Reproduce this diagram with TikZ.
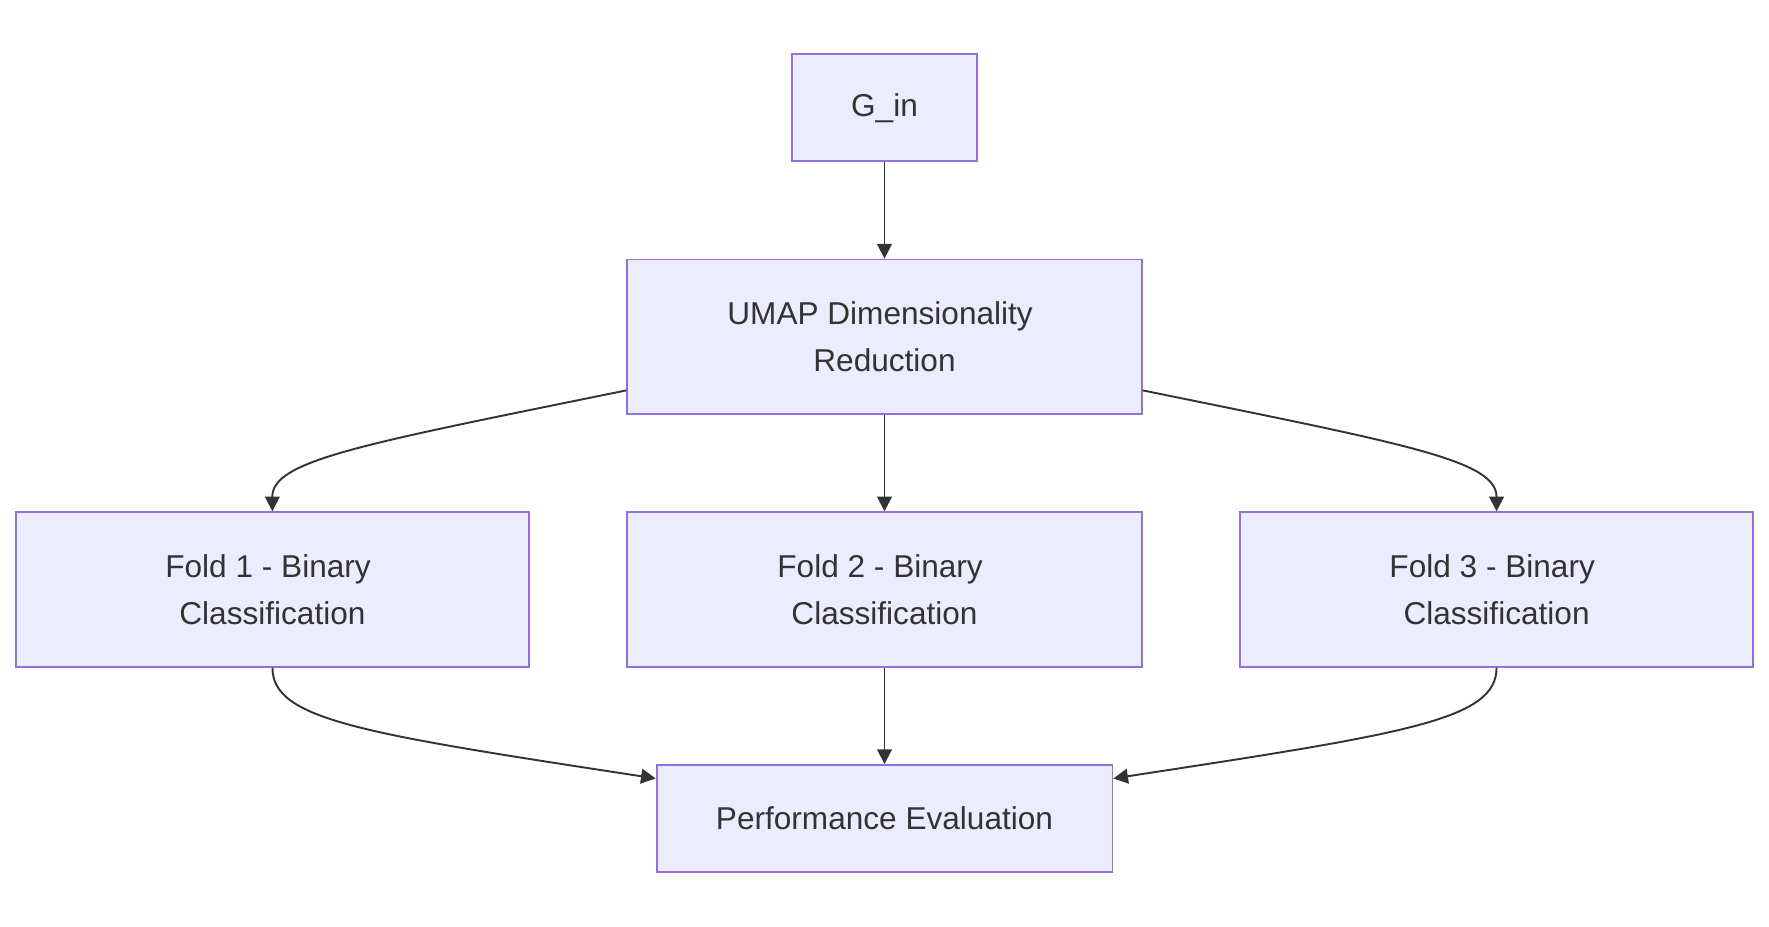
\documentclass[tikz,border=0pt]{standalone}
\usepackage{fontspec}
\setmainfont{Liberation Sans}
\usetikzlibrary{arrows.meta}
\definecolor{nodefill}{HTML}{ECECFF}
\definecolor{nodeline}{HTML}{9370DB}
\definecolor{edgecol}{HTML}{333333}
\newcommand{\tsp}{\kern0.278em}
\begin{document}
\begin{tikzpicture}[x=0.5pt,y=-0.5pt,
  box/.style={draw=nodeline,fill=nodefill,line width=0.8pt,inner sep=0pt,
    text=edgecol,font=\fontsize{14}{21}\selectfont,align=center},
  edge/.style={draw=edgecol,line width=0.85pt,-{Triangle[length=6.5pt,width=6.5pt]}}]
\useasboundingbox (0,0) rectangle (1568,821);
\node[box,minimum width=82pt,minimum height=47.5pt] (gin) at (784,95.5) {G\_in};
\node[box,minimum width=228pt,minimum height=68.5pt] (umap) at (784,298.5) {UMAP Dimensionality\tsp\\Reduction};
\node[box,minimum width=227.5pt,minimum height=68.5pt] (f1) at (241.5,522.5) {Fold 1 - Binary\tsp\\Classification};
\node[box,minimum width=228pt,minimum height=68.5pt] (f2) at (784,522.5) {Fold 2 - Binary\tsp\\Classification};
\node[box,minimum width=227.5pt,minimum height=68.5pt] (f3) at (1326.5,522.5) {Fold 3 - Binary\tsp\\Classification};
\node[box,minimum width=202pt,minimum height=47.5pt] (perf) at (784,725.5) {Performance Evaluation};
\draw[edge] (gin.south) -- (umap.north);
\draw[edge] (umap.south) -- (f2.north);
\draw[edge] (f2.south) -- (perf.north);
\draw[edge] (umap.west |- 0,346) .. controls (320,394) and (241,408) .. (f1.north);
\draw[edge] (umap.east |- 0,346) .. controls (1248,394) and (1326.5,408) .. (f3.north);
\draw[edge] (f1.south) .. controls (241.5,638) and (320,650) .. (perf.west |- 0,690);
\draw[edge] (f3.south) .. controls (1326.5,638) and (1248,650) .. (perf.east |- 0,690);
\end{tikzpicture}
\end{document}
